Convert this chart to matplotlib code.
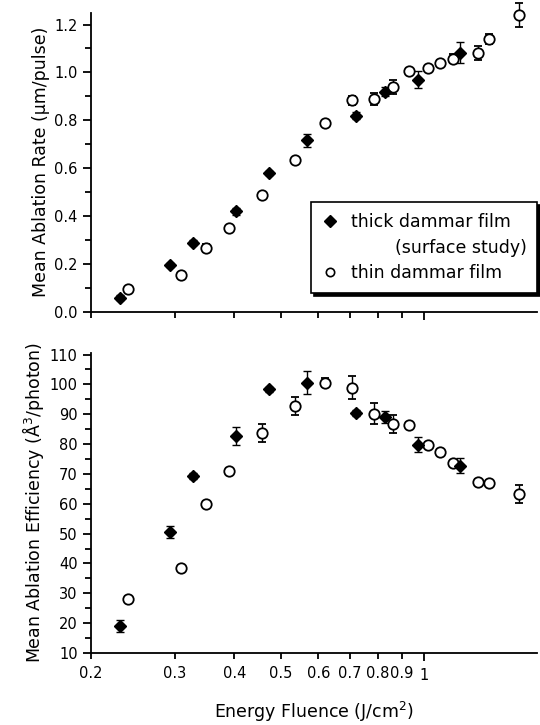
import matplotlib
matplotlib.use("Agg")
import matplotlib.pyplot as plt
from matplotlib.ticker import FixedLocator, FixedFormatter, MultipleLocator, NullFormatter
from matplotlib.lines import Line2D

plt.rcParams['font.family'] = ['DejaVu Sans']

# thick dammar film (surface study) - filled diamonds
thick_x = [0.230, 0.293, 0.328, 0.403, 0.473, 0.569, 0.72, 0.83, 0.97, 1.19]
thick_rate = [0.06, 0.196, 0.29, 0.42, 0.58, 0.717, 0.82, 0.92, 0.97, 1.083]
thick_rate_err = [0.01, 0.01, 0.01, 0.015, 0.01, 0.028, 0.015, 0.02, 0.035, 0.045]
thick_eff = [19.1, 50.6, 69.4, 82.8, 98.3, 100.6, 90.5, 89.2, 79.8, 72.8]
thick_eff_err = [2, 2, 1, 3, 1, 3.8, 1, 2, 2.5, 2.5]

# thin dammar film - open circles
thin_x = [0.239, 0.309, 0.349, 0.39, 0.457, 0.536, 0.62, 0.706, 0.786, 0.86,
          0.93, 1.02, 1.08, 1.15, 1.30, 1.37, 1.58]
thin_rate = [0.095, 0.154, 0.267, 0.35, 0.488, 0.633, 0.787, 0.883, 0.89, 0.94,
             1.008, 1.017, 1.04, 1.058, 1.08, 1.14, 1.24]
thin_rate_err = [0.01, 0.01, 0.015, 0.01, 0.01, 0.01, 0.01, 0.02, 0.025, 0.03,
                 0.01, 0.01, 0.01, 0.02, 0.03, 0.02, 0.049]
thin_eff = [28.1, 38.5, 60, 71, 83.8, 92.9, 100.6, 98.9, 90.2, 86.8,
            86.5, 79.8, 77.5, 73.8, 67.4, 67, 63.4]
thin_eff_err = [1, 1, 1, 1, 3, 3, 1.5, 3.8, 3.5, 3,
                1, 1, 1, 1, 1, 1, 3]

x_ticks = [0.2, 0.3, 0.4, 0.5, 0.6, 0.7, 0.8, 0.9]
x_labels = ['0.2', '0.3', '0.4', '0.5', '0.6', '0.7', '0.8', '0.9']

fig = plt.figure(figsize=(5.4, 7.25), dpi=100)
ax1 = fig.add_axes([0.1685, 0.5697, 0.8265, 0.413])
ax2 = fig.add_axes([0.1685, 0.0993, 0.8265, 0.4137])

thick_style = dict(fmt='D', ms=6.5, mfc='black', mec='black', ecolor='black',
                   elinewidth=1, capsize=3, capthick=1, zorder=3)
thin_style = dict(fmt='o', ms=7.5, mfc='white', mec='black', mew=1.3, ecolor='black',
                  elinewidth=1, capsize=3, capthick=1, zorder=3)

conts = [ax1.errorbar(thin_x, thin_rate, yerr=thin_rate_err, **thin_style),
         ax1.errorbar(thick_x, thick_rate, yerr=thick_rate_err, **thick_style)]
ax2.errorbar(thin_x, thin_eff, yerr=thin_eff_err, **thin_style)
ax2.errorbar(thick_x, thick_eff, yerr=thick_eff_err, **thick_style)
for c in conts:
    for art in c.get_children():
        art.set_clip_on(False)

for ax in (ax1, ax2):
    ax.set_xscale('log')
    ax.set_xlim(0.2, 1.73)
    ax.spines['top'].set_visible(False)
    ax.spines['right'].set_visible(False)
    ax.spines['left'].set_linewidth(1.3)
    ax.spines['bottom'].set_linewidth(1.3)
    ax.xaxis.set_major_locator(FixedLocator([1]))
    ax.xaxis.set_minor_locator(FixedLocator(x_ticks))
    ax.tick_params(which='major', direction='out', length=6, width=1.3, labelsize=10.5)
    ax.tick_params(which='minor', direction='out', length=4, width=1.3, labelsize=10.5)

ax1.xaxis.set_major_formatter(NullFormatter())
ax1.xaxis.set_minor_formatter(NullFormatter())
ax2.xaxis.set_major_formatter(FixedFormatter(['1']))
ax2.xaxis.set_minor_formatter(FixedFormatter(x_labels))
ax2.tick_params(axis='x', which='both', pad=5)

ax1.set_ylim(0, 1.25)
ax1.yaxis.set_major_locator(MultipleLocator(0.2))
ax1.yaxis.set_minor_locator(MultipleLocator(0.1))
ax1.yaxis.set_major_formatter(plt.FuncFormatter(lambda v, p: f"{v:.1f}"))
ax1.set_ylabel('Mean Ablation Rate (\u00b5m/pulse)', fontsize=12.5, labelpad=3)

ax2.set_ylim(10, 110.5)
ax2.yaxis.set_major_locator(MultipleLocator(10))
ax2.yaxis.set_minor_locator(MultipleLocator(5))
ax2.set_ylabel('Mean Ablation Efficiency (\u00c5$^3$/photon)', fontsize=12.5, labelpad=3)
ax2.set_xlabel('Energy Fluence (J/cm$^2$)', fontsize=12.5, labelpad=12)

# legend: marker beside first line only, second line is a continuation
handles = [Line2D([], [], marker='D', ms=6, color='black', ls='none'),
           Line2D([], [], ls='none'),
           Line2D([], [], marker='o', ms=6, mfc='white', mec='black', mew=1.2, ls='none')]
labels = ['thick dammar film', '        (surface study)', 'thin dammar film']
leg = ax1.legend(handles, labels, loc='lower right', bbox_to_anchor=(1.0, 0.064),
                 borderaxespad=0, fontsize=12.5, frameon=True, fancybox=False,
                 shadow={'color': 'black', 'alpha': 1},
                 handletextpad=0.7, handlelength=1.0, borderpad=0.6, labelspacing=0.45)
leg.get_frame().set_edgecolor('black')
leg.get_frame().set_linewidth(1.2)

fig.savefig('out.png', dpi=100)
